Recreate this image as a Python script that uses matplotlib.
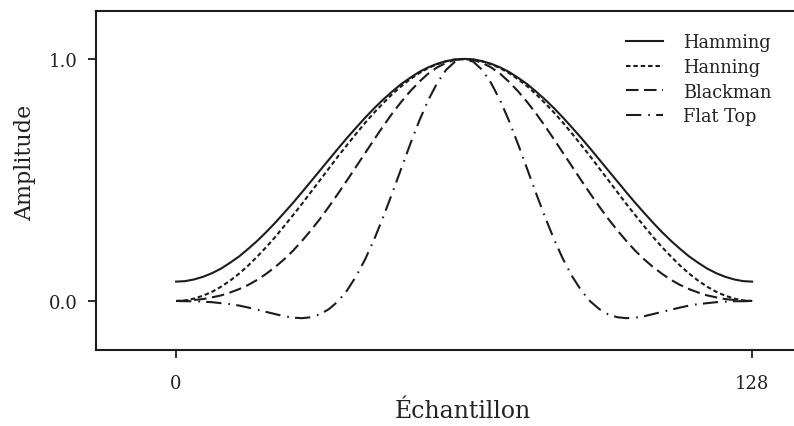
import matplotlib
matplotlib.use("Agg")
import matplotlib.pyplot as plt

plt.rcParams['font.family'] = ['DejaVu Serif']
plt.rcParams['lines.scale_dashes'] = False

# sample index (every 2 samples of a 129-point window)
n = list(range(0, 129, 2))

hamming = [0.080, 0.082, 0.089, 0.100, 0.115, 0.134, 0.158, 0.184, 0.215, 0.248,
           0.284, 0.323, 0.364, 0.406, 0.450, 0.495, 0.540, 0.585, 0.630, 0.674,
           0.716, 0.757, 0.796, 0.832, 0.865, 0.896, 0.922, 0.946, 0.965, 0.980,
           0.991, 0.998, 1.000,
           0.998, 0.991, 0.980, 0.965, 0.946, 0.922, 0.896, 0.865, 0.832, 0.796,
           0.757, 0.716, 0.674, 0.630, 0.585, 0.540, 0.495, 0.450, 0.406, 0.364,
           0.323, 0.284, 0.248, 0.215, 0.184, 0.158, 0.134, 0.115, 0.100, 0.089,
           0.082, 0.080]

hanning = [0.000, 0.002, 0.010, 0.022, 0.038, 0.059, 0.084, 0.113, 0.146, 0.183,
           0.222, 0.264, 0.309, 0.355, 0.402, 0.451, 0.500, 0.549, 0.598, 0.645,
           0.691, 0.736, 0.778, 0.817, 0.854, 0.887, 0.916, 0.941, 0.962, 0.978,
           0.990, 0.998, 1.000,
           0.998, 0.990, 0.978, 0.962, 0.941, 0.916, 0.887, 0.854, 0.817, 0.778,
           0.736, 0.691, 0.645, 0.598, 0.549, 0.500, 0.451, 0.402, 0.355, 0.309,
           0.264, 0.222, 0.183, 0.146, 0.113, 0.084, 0.059, 0.038, 0.022, 0.010,
           0.002, 0.000]

blackman = [0.000, 0.001, 0.004, 0.008, 0.015, 0.023, 0.035, 0.049, 0.066, 0.087,
            0.112, 0.140, 0.172, 0.208, 0.249, 0.293, 0.340, 0.391, 0.444, 0.499,
            0.555, 0.611, 0.667, 0.722, 0.774, 0.822, 0.866, 0.905, 0.939, 0.965,
            0.984, 0.996, 1.000,
            0.996, 0.984, 0.965, 0.939, 0.905, 0.866, 0.822, 0.774, 0.722, 0.667,
            0.611, 0.555, 0.499, 0.444, 0.391, 0.340, 0.293, 0.249, 0.208, 0.172,
            0.140, 0.112, 0.087, 0.066, 0.049, 0.035, 0.023, 0.015, 0.008, 0.004,
            0.001, 0.000]

flattop = [0.000, -0.001, -0.001, -0.003, -0.005, -0.009, -0.013, -0.019, -0.027, -0.036,
           -0.045, -0.054, -0.063, -0.069, -0.071, -0.067, -0.055, -0.033, -0.001, 0.044,
           0.102, 0.172, 0.254, 0.346, 0.444, 0.546, 0.647, 0.743, 0.829, 0.900,
           0.955, 0.989, 1.000,
           0.989, 0.955, 0.900, 0.829, 0.743, 0.647, 0.546, 0.444, 0.346, 0.254,
           0.172, 0.102, 0.044, -0.001, -0.033, -0.055, -0.067, -0.071, -0.069, -0.063,
           -0.054, -0.045, -0.036, -0.027, -0.019, -0.013, -0.009, -0.005, -0.003, -0.001,
           -0.001, 0.000]

ink = '#1c1c1c'

fig = plt.figure(figsize=(7.94, 4.27), dpi=100)
ax = fig.add_axes([96/794, 76/427, 1 - 96/794, 339/427])

ax.plot(n, hamming, color=ink, lw=1.5, label='Hamming')
ax.plot(n, hanning, color=ink, lw=1.5, dashes=(3.2, 2.1), label='Hanning')
ax.plot(n, blackman, color=ink, lw=1.5, dashes=(9, 4), label='Blackman')
ax.plot(n, flattop, color=ink, lw=1.5, dashes=(11, 5, 1.2, 4.5), label='Flat Top')

ax.set_xlim(-17.8, 137.3)
ax.set_ylim(-0.2025, 1.198)
ax.set_xticks([0, 128])
ax.set_xticklabels(['0', '128'])
ax.set_yticks([0.0, 1.0])
ax.set_yticklabels(['0.0', '1.0'])

for s in ['left', 'bottom', 'top']:
    ax.spines[s].set_linewidth(1.5)
    ax.spines[s].set_color(ink)
ax.spines['right'].set_visible(False)

ax.tick_params(axis='both', direction='out', length=5.5, width=1.3,
               color=ink, labelsize=13, labelcolor='#222222')
ax.tick_params(axis='y', pad=8)
ax.tick_params(axis='x', pad=12)

fig.text(25/794, 1 - 163/427, 'Amplitude', rotation=90, ha='center',
         va='center', fontsize=16, color='#222222')
fig.text(463/794, 1 - 412/427, 'Échantillon', ha='center', va='center',
         fontsize=17, color='#222222')

ax.legend(loc='upper left', bbox_to_anchor=(626/794, 1 - 34/427),
          bbox_transform=fig.transFigure, frameon=False, fontsize=12.8,
          handlelength=2.1, handletextpad=1.1, labelspacing=0.38,
          borderpad=0, borderaxespad=0, labelcolor='#222222')

fig.savefig('out.png', dpi=100)
